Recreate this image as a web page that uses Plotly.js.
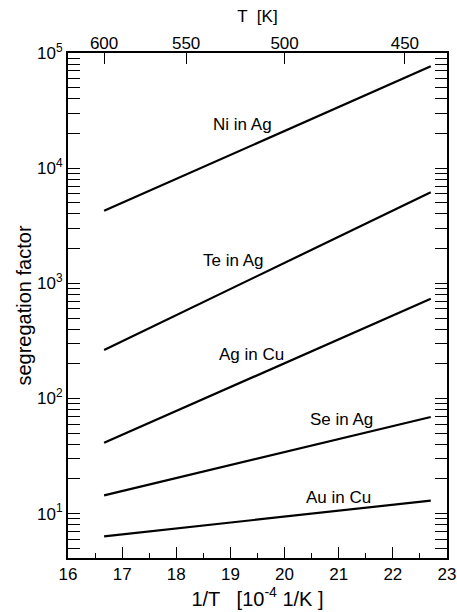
<!DOCTYPE html>
<html>
<head>
<meta charset="utf-8">
<script src="https://cdn.plot.ly/plotly-3.0.1.min.js"></script>
<style>html,body{margin:0;padding:0;background:#fff;}#chart{width:457px;height:612px;}</style>
</head>
<body>
<div id="chart"></div>
<script>
// inverse temperature 1/T [10^-4 1/K] at the line ends (T = 600 K ... ~440 K)
const invT = [16.667, 22.7];
const seriesNames = ["Ni in Ag", "Te in Ag", "Ag in Cu", "Se in Ag", "Au in Cu"];
const niInAg = [4260, 76700];
const teInAg = [264, 6170];
const agInCu = [41.3, 734];
const seInAg = [14.4, 69.1];
const auInCu = [6.34, 13.0];
// label anchor points (x in 1/T, y segregation factor)
const labelX = [19.22, 19.05, 19.39, 21.06, 20.99];
const labelY = [23800, 1585, 243, 66, 13.9];
// top axis temperatures
const topT = [600, 550, 500, 450];
const yTickVals = [10, 100, 1000, 10000, 100000];
const yTickText = ["10<sup>1</sup>", "10<sup>2</sup>", "10<sup>3</sup>", "10<sup>4</sup>", "10<sup>5</sup>"];

const allSeries = [niInAg, teInAg, agInCu, seInAg, auInCu];
const font = "Liberation Sans, Arial, sans-serif";
const black = "#000000";

const traces = allSeries.map((ys, i) => ({
  x: invT, y: ys, type: "scatter", mode: "lines", name: seriesNames[i],
  line: {color: black, width: 2.2}, showlegend: false, hoverinfo: "skip"
}));
// dummy trace for the top axis
traces.push({x: [16, 23], y: [10, 10], xaxis: "x2", yaxis: "y", mode: "lines",
  line: {width: 0}, showlegend: false, hoverinfo: "skip", opacity: 0});

const layout = {
  width: 457, height: 612,
  margin: {l: 68, r: 10, t: 53, b: 54},
  paper_bgcolor: "#fff", plot_bgcolor: "#fff",
  font: {family: font, color: black, size: 17},
  showlegend: false,
  xaxis: {
    range: [16, 23], dtick: 1, tick0: 16,
    ticks: "inside", ticklen: 11, tickwidth: 1, tickcolor: black,
    minor: {dtick: 0.5, ticks: "inside", ticklen: 5, tickwidth: 1, tickcolor: black},
    showline: true, linewidth: 2, linecolor: black, mirror: true,
    showgrid: false, zeroline: false,
    tickfont: {size: 17, family: font, color: black},
    title: {text: "1/T   [10<sup>-4</sup> 1/K ]", font: {size: 20, family: font, color: black}, standoff: 2}
  },
  xaxis2: {
    overlaying: "x", side: "top", anchor: "y",
    range: [16, 23],
    tickmode: "array", tickvals: topT.map(t => 1e4 / t), ticktext: topT.map(String),
    ticks: "inside", ticklen: 11, tickwidth: 1, tickcolor: black,
    showline: false, showgrid: false, zeroline: false,
    tickfont: {size: 17, family: font, color: black},
    title: {text: "T  [K]", font: {size: 17, family: font, color: black}, standoff: 6}
  },
  yaxis: {
    type: "log", range: [0.615, 5],
    tickmode: "array", tickvals: yTickVals, ticktext: yTickText,
    ticks: "inside", ticklen: 12, tickwidth: 1, tickcolor: black,
    minor: {dtick: "D1", ticks: "inside", ticklen: 6, tickwidth: 1, tickcolor: black},
    showline: true, linewidth: 2, linecolor: black, mirror: "allticks",
    showgrid: false, zeroline: false,
    tickfont: {size: 17, family: font, color: black},
    title: {text: "segregation factor", font: {size: 20, family: font, color: black}, standoff: 0}
  },
  annotations: seriesNames.map((n, i) => ({
    x: labelX[i], y: Math.log10(labelY[i]), xref: "x", yref: "y",
    text: n, showarrow: false, font: {size: 17, family: font, color: black}
  }))
};

Plotly.newPlot("chart", traces, layout, {staticPlot: true, displayModeBar: false});
</script>
</body>
</html>
